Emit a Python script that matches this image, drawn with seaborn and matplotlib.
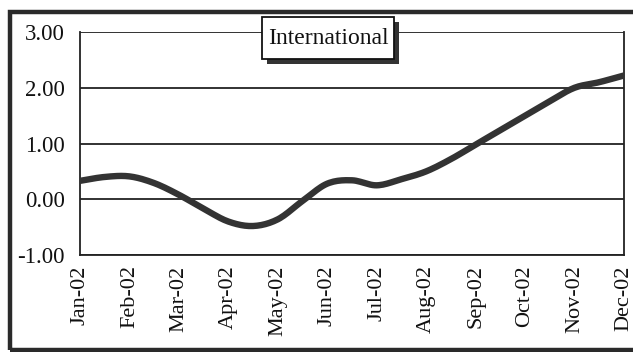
import numpy as np
import pandas as pd
import matplotlib
matplotlib.use("Agg")
import matplotlib.pyplot as plt
from matplotlib.patches import Rectangle
import seaborn as sns

# Semi-monthly readings, 2002 (position in months from Jan-02)
months = ["Jan-02", "Feb-02", "Mar-02", "Apr-02", "May-02", "Jun-02",
          "Jul-02", "Aug-02", "Sep-02", "Oct-02", "Nov-02", "Dec-02"]
period = [0.0, 0.5, 1.0, 1.5, 2.0, 2.5, 3.0, 3.5, 4.0, 4.5, 5.0, 5.5,
          6.0, 6.5, 7.0, 7.5, 8.0, 8.5, 9.0, 9.5, 10.0, 10.5, 11.0]
international = [0.33, 0.40, 0.41, 0.29, 0.08, -0.17, -0.40, -0.48, -0.36, -0.03,
                 0.28, 0.34, 0.25, 0.36, 0.50, 0.72, 0.98, 1.24, 1.50, 1.76,
                 2.00, 2.10, 2.22]
y_ticks = [-1.0, 0.0, 1.0, 2.0, 3.0]


def smooth_line(x, y, steps=12):
    """Catmull-Rom smoothing through every point, like a spreadsheet 'smoothed line'."""
    x = np.asarray(x, float)
    y = np.asarray(y, float)
    px = np.concatenate([[2 * x[0] - x[1]], x, [2 * x[-1] - x[-2]]])
    py = np.concatenate([[2 * y[0] - y[1]], y, [2 * y[-1] - y[-2]]])
    t = np.linspace(0, 1, steps, endpoint=False)
    xs, ys = [], []
    for i in range(1, len(px) - 2):
        for p, out in ((px, xs), (py, ys)):
            p0, p1, p2, p3 = p[i - 1], p[i], p[i + 1], p[i + 2]
            out.extend(0.5 * (2 * p1 + (-p0 + p2) * t
                              + (2 * p0 - 5 * p1 + 4 * p2 - p3) * t ** 2
                              + (-p0 + 3 * p1 - 3 * p2 + p3) * t ** 3))
    xs.append(x[-1])
    ys.append(y[-1])
    return np.array(xs), np.array(ys)


sx, sy = smooth_line(period, international)
df = pd.DataFrame({"period": sx, "value": sy})

sns.set_theme(style="white")
plt.rcParams["font.family"] = ["Liberation Serif", "DejaVu Serif"]

W, H = 633, 352
fig = plt.figure(figsize=(W / 100, H / 100), dpi=100)
ax = fig.add_axes([80 / W, 1 - 255 / H, (624 - 80) / W, (255 - 32) / H])

for yv in y_ticks:
    ax.axhline(yv, color="#222222", lw=1.3, zorder=1)

sns.lineplot(data=df, x="period", y="value", ax=ax, color="#333333", sort=False,
             lw=4.6, solid_capstyle="round", solid_joinstyle="round", zorder=3)

ax.set_xlim(0, 11)
ax.set_ylim(-1, 3)
ax.set_xticks(range(len(months)))
ax.set_xticklabels(months, rotation=90, fontsize=16, color="#111111")
ax.set_yticks(y_ticks)
ax.set_yticklabels([f"{v:.2f}" for v in y_ticks], fontsize=16.5, color="#111111")
ax.set_xlabel("")
ax.set_ylabel("")
ax.tick_params(axis="x", direction="inout", length=9, width=1.2, color="#222222", pad=3)
ax.tick_params(axis="y", direction="out", length=6, width=1.2, color="#222222", pad=5)
for side, sp in ax.spines.items():
    sp.set_color("#222222")
    sp.set_linewidth(1.3)
ax.spines["top"].set_visible(False)

# Outer frame around the chart
fig.patches.append(Rectangle((10 / W, 2 / H), 1.2, 338 / H, transform=fig.transFigure,
                             fill=False, edgecolor="#2a2a2a", lw=3.2, clip_on=False))

# Title box with drop shadow
bx0, bx1, by0, by1 = 262, 394, 17, 59
fig.patches.append(Rectangle(((bx0 + 5) / W, 1 - (by1 + 5) / H), (bx1 - bx0) / W, (by1 - by0) / H,
                             transform=fig.transFigure, facecolor="#333333", edgecolor="none",
                             zorder=5))
fig.patches.append(Rectangle((bx0 / W, 1 - by1 / H), (bx1 - bx0) / W, (by1 - by0) / H,
                             transform=fig.transFigure, facecolor="white", edgecolor="#111111",
                             lw=1.3, zorder=6))
fig.text((bx0 + bx1) / 2 / W, 1 - (by0 + by1) / 2 / H, "International", ha="center",
         va="center", fontsize=17, color="#111111", zorder=7)

fig.savefig("out.png", dpi=100)
